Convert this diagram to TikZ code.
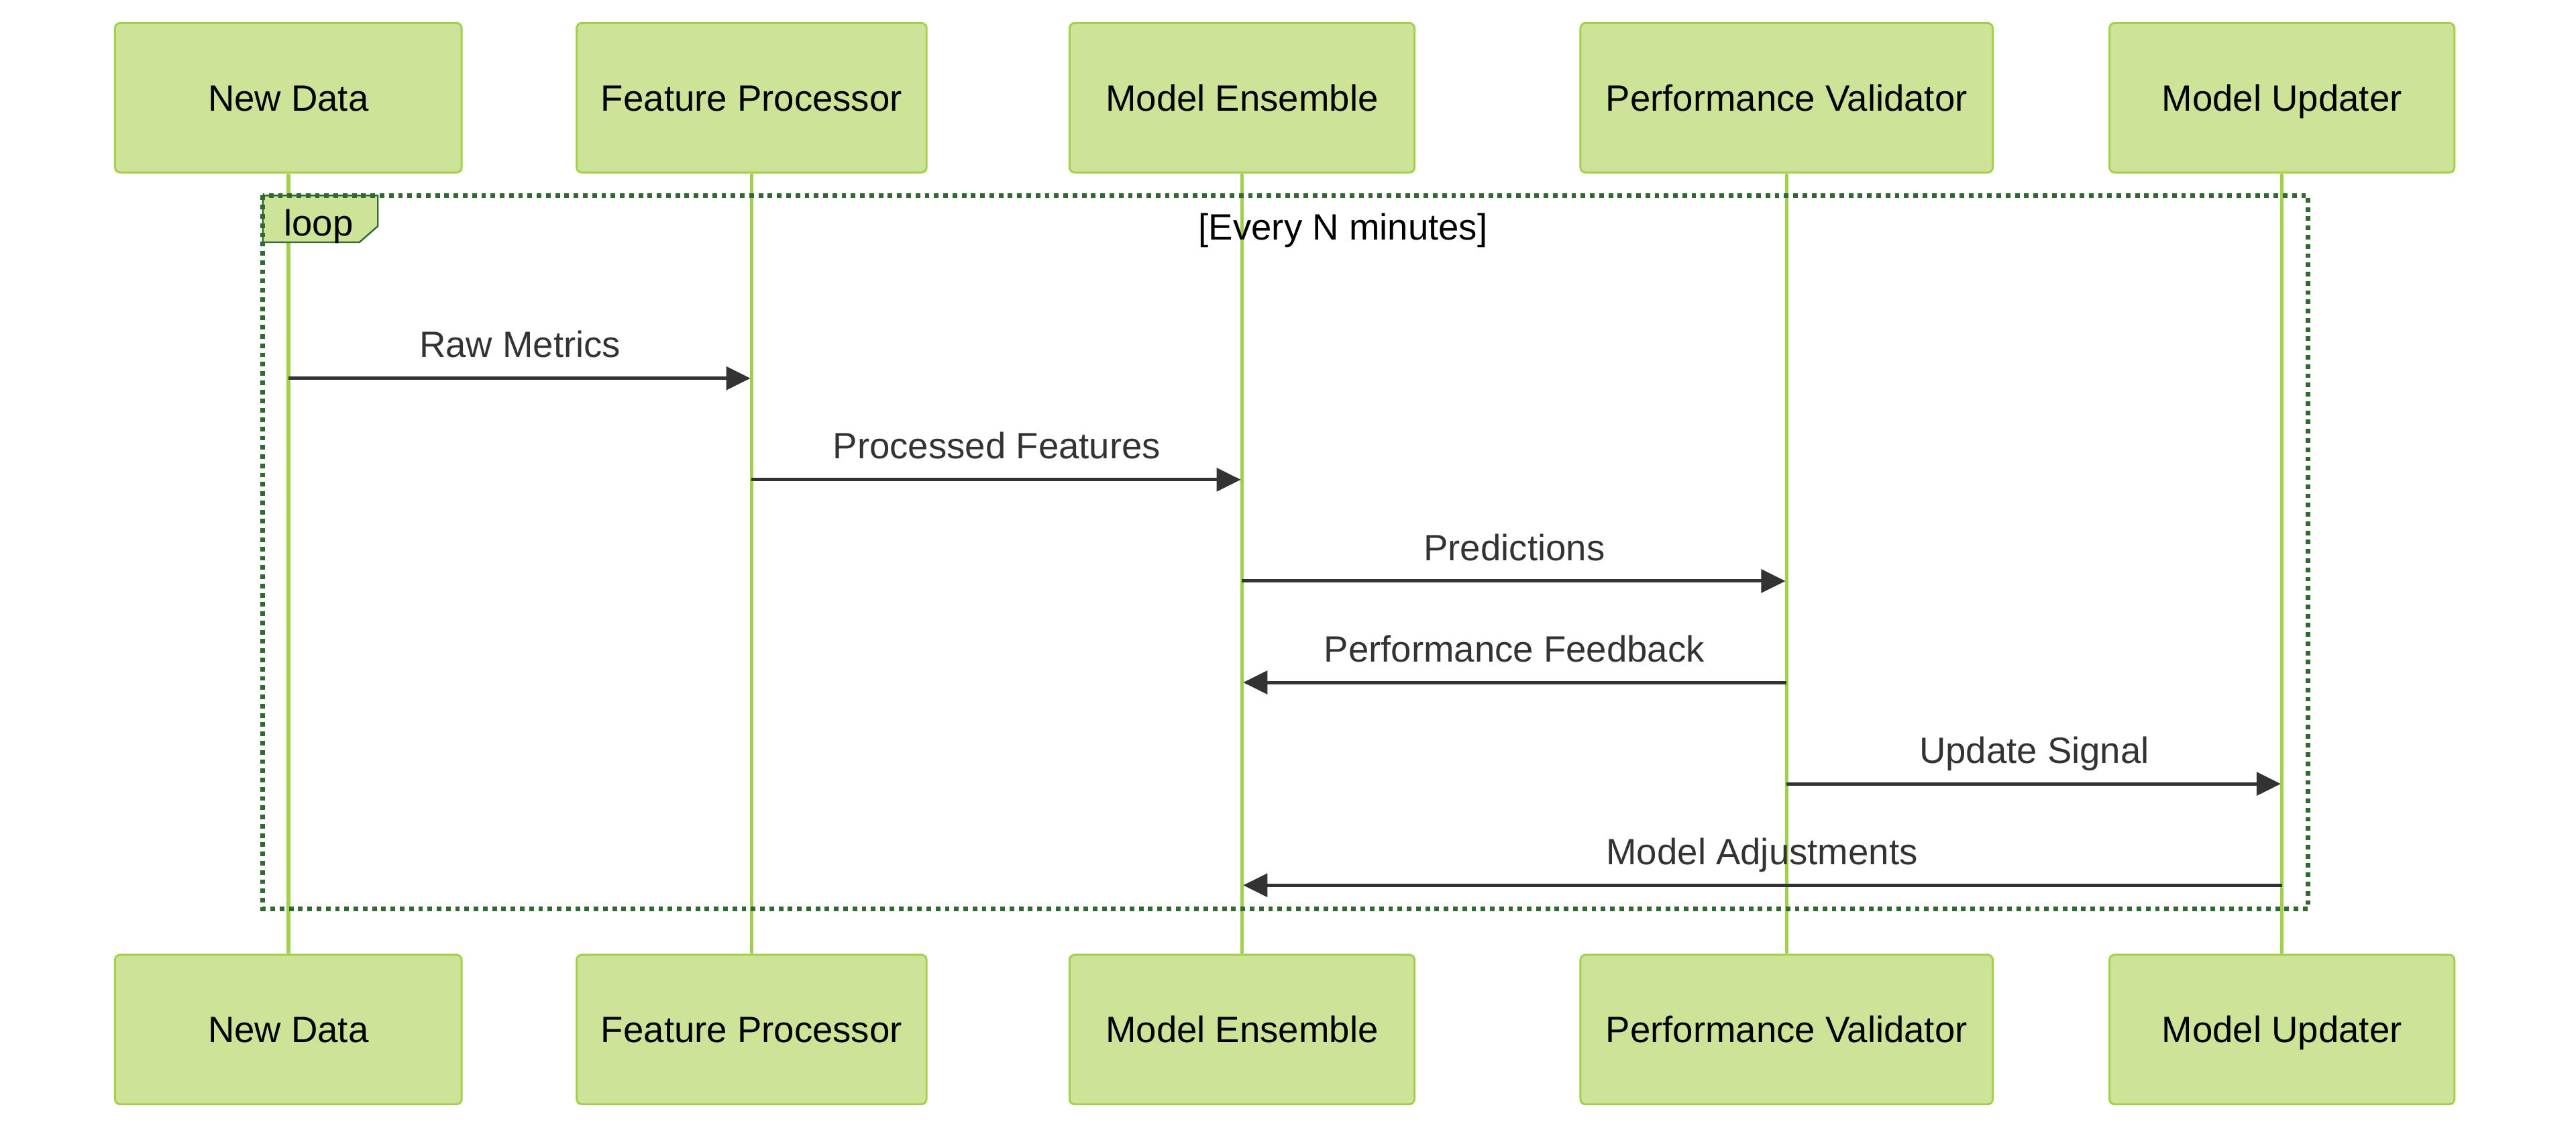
\documentclass[tikz,border=0pt]{standalone}
\usepackage{fontspec}
\setmainfont{Liberation Sans}
\usepackage{xcolor}
\usepackage{tikz}
\usetikzlibrary{arrows.meta, positioning}

\definecolor{actorfill}{HTML}{CDE498}
\definecolor{actorline}{HTML}{A3D04A}
\definecolor{loopline}{HTML}{326932}
\definecolor{msgcolor}{HTML}{333333}
\newcommand{\diagfont}{\fontsize{31.7pt}{38pt}\selectfont}

\begin{document}
\begin{tikzpicture}[x=0.5mm, y=-0.5mm,
    % Styles
    actor/.style={
        rectangle,
        rounded corners=4.5pt,
        fill=actorfill,
        draw=actorline,
        line width=1.7pt,
        minimum height=45.5mm,
        inner sep=0pt,
        text height=22.7pt,
        text depth=0pt,
        font=\diagfont
    },
    lifeline/.style={
        draw=actorline,
        line width=3.2pt
    },
    msg/.style={
        draw=msgcolor,
        line width=2.9pt,
        -{Triangle[length=21pt, width=20pt]},
        shorten >=1pt
    },
    msglabel/.style={
        font=\diagfont,
        text=msgcolor,
        inner sep=0pt,
        text depth=0pt,
        above=16.5pt
    },
    loopframe/.style={
        draw=loopline,
        line width=4pt,
        dash pattern=on 4pt off 4pt
    },
    looptab/.style={
        fill=actorfill,
        draw=loopline,
        line width=1.4pt
    },
    looplabel/.style={
        font=\diagfont,
        inner sep=0pt,
        anchor=base
    }
]
\useasboundingbox (0,0) rectangle (1568,689.7);

% ACTORS top row
\node[actor, minimum width=105.5mm] (nd) at (175.5, 59.5) {New Data};
\node[actor, minimum width=106.5mm] (fp) at (457.5, 59.5) {Feature Processor};
\node[actor, minimum width=105mm]   (me) at (756, 59.5) {Model Ensemble};
\node[actor, minimum width=125.5mm] (pv) at (1087.5, 59.5) {Performance Validator};
\node[actor, minimum width=105mm]   (mu) at (1389, 59.5) {Model Updater};

% ACTORS bottom row
\node[actor, minimum width=105.5mm] (ndb) at (175.5, 626.5) {New Data};
\node[actor, minimum width=106.5mm] (fpb) at (457.5, 626.5) {Feature Processor};
\node[actor, minimum width=105mm]   (meb) at (756, 626.5) {Model Ensemble};
\node[actor, minimum width=125.5mm] (pvb) at (1087.5, 626.5) {Performance Validator};
\node[actor, minimum width=105mm]   (mub) at (1389, 626.5) {Model Updater};

% Lifelines
\foreach \a in {nd, fp, me, pv, mu}
    \draw[lifeline] (\a) -- (\a b);

% Loop block
\draw[looptab] (160,119) -- (230,119) -- (230,137.6) -- (218.8,147.4) -- (160,147.4) -- cycle;
\node[looplabel] (looptxt) at (194, 143.6) {loop};
\draw[loopframe] (160,119) rectangle (1405,553);
\node[looplabel] (loopcond) at (817.5, 145.9) {[Every N minutes]};

% Message points on the lifelines
\foreach \y [count=\i] in {230.2, 291.9, 353.6, 415.3, 477.0, 538.7}
    \foreach \a in {nd, fp, me, pv, mu}
        \coordinate (\a-\i) at (\a |- 0,\y);

% Messages
\draw[msg] (nd-1) -- node[msglabel] {Raw Metrics} (fp-1);
\draw[msg] (fp-2) -- node[msglabel] {Processed Features} (me-2);
\draw[msg] (me-3) -- node[msglabel] {Predictions} (pv-3);
\draw[msg] (pv-4) -- node[msglabel] {Performance Feedback} (me-4);
\draw[msg] (pv-5) -- node[msglabel] {Update Signal} (mu-5);
\draw[msg] (mu-6) -- node[msglabel] {Model Adjustments} (me-6);

\end{tikzpicture}
\end{document}
